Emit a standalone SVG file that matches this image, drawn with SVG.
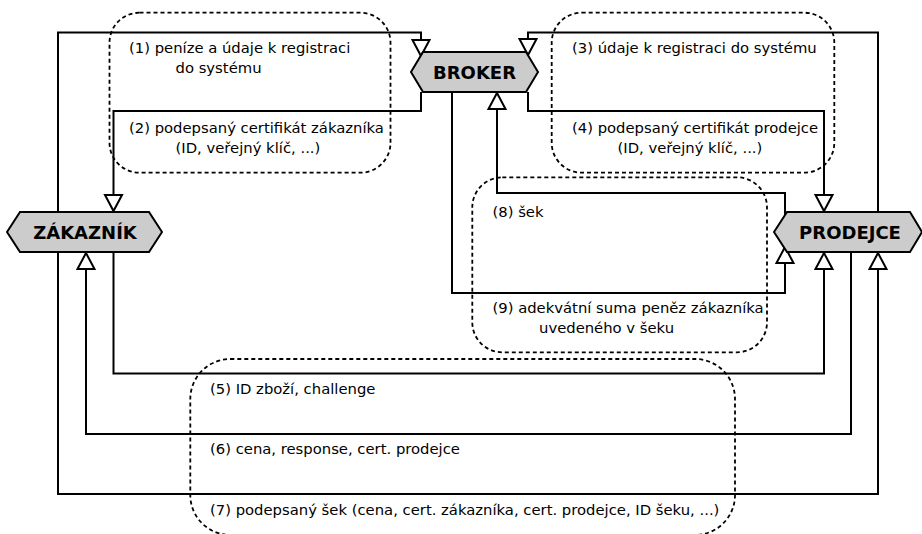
<svg xmlns="http://www.w3.org/2000/svg" width="922" height="534" viewBox="0 0 922 534">
  <style>
    .conn { fill: none; stroke: #000; stroke-width: 2; marker-end: url(#open); }
    .group { fill: none; stroke: #000; stroke-width: 1.8; stroke-dasharray: 4 3; }
    .node { fill: #cccccc; stroke: #000; stroke-width: 2; stroke-linejoin: miter; }
    .nlabel { font-family: "DejaVu Sans", sans-serif; font-weight: bold; font-size: 18px; text-anchor: middle; }
    .msg { font-family: "DejaVu Sans", sans-serif; font-size: 14.8px; fill: #000; }
  </style>
  <defs>
    <marker id="open" viewBox="0 0 16 17" refX="16" refY="8.5" markerWidth="16" markerHeight="17" markerUnits="userSpaceOnUse" orient="auto" overflow="visible">
      <path d="M0,0 L16,8.5 L0,17 Z" fill="#fff" stroke="#000" stroke-width="2" stroke-linejoin="miter"/>
    </marker>
  </defs>
  <rect width="922" height="534" fill="#fff"/>

  <!-- dashed grouping frames -->
  <g id="frames">
    <rect class="group" x="109.5" y="12.7" width="281" height="160" rx="30" ry="30"/>
    <rect class="group" x="551.7" y="12.7" width="282.6" height="160" rx="30" ry="30"/>
    <rect class="group" x="472.3" y="177.3" width="294.7" height="175" rx="30" ry="30"/>
    <rect class="group" x="190.3" y="359" width="544.7" height="176" rx="40" ry="40"/>
  </g>

  <!-- message connectors -->
  <g id="connectors">
    <path class="conn" d="M58,212 V32.5 H421 V56"/>
    <path class="conn" d="M421,92 V111 H113.5 V211"/>
    <path class="conn" d="M878,212 V32.5 H528 V55"/>
    <path class="conn" d="M528,92 V111 H824 V211"/>
    <path class="conn" d="M785,216 V193 H497 V93"/>
    <path class="conn" d="M452,92 V293 H785 V247"/>
    <path class="conn" d="M113.5,252 V373.5 H824 V253"/>
    <path class="conn" d="M851,252 V434 H86 V253"/>
    <path class="conn" d="M58,252 V494 H878 V253"/>
  </g>

  <!-- parties -->
  <g id="broker">
    <polygon class="node" points="411,72 423,52 526,52 538,72 526,92 423,92"/>
    <text class="nlabel" x="474.5" y="78.5">BROKER</text>
  </g>
  <g id="zakaznik">
    <polygon class="node" points="7,232 20,212 149,212 162,232 149,252 20,252"/>
    <text class="nlabel" x="85" y="238.5">ZÁKAZNÍK</text>
  </g>
  <g id="prodejce">
    <polygon class="node" points="774,232 787,212 910,212 922,232 910,252 787,252"/>
    <text class="nlabel" x="850" y="238.5">PRODEJCE</text>
  </g>

  <!-- message labels -->
  <g id="labels">
    <text class="msg" x="129" y="53">(1) peníze a údaje k registraci</text>
    <text class="msg" x="175.5" y="73">do systému</text>
    <text class="msg" x="129" y="133">(2) podepsaný certifikát zákazníka</text>
    <text class="msg" x="175.5" y="153">(ID, veřejný klíč, ...)</text>
    <text class="msg" x="572" y="53">(3) údaje k registraci do systému</text>
    <text class="msg" x="572" y="133">(4) podepsaný certifikát prodejce</text>
    <text class="msg" x="617.5" y="153">(ID, veřejný klíč, ...)</text>
    <text class="msg" x="492.5" y="216.5">(8) šek</text>
    <text class="msg" x="492.5" y="313">(9) adekvátní suma peněz zákazníka</text>
    <text class="msg" x="539" y="333">uvedeného v šeku</text>
    <text class="msg" x="210" y="393.5">(5) ID zboží, challenge</text>
    <text class="msg" x="210" y="454">(6) cena, response, cert. prodejce</text>
    <text class="msg" x="210" y="514.5">(7) podepsaný šek (cena, cert. zákazníka, cert. prodejce, ID šeku, ...)</text>
  </g>
</svg>
